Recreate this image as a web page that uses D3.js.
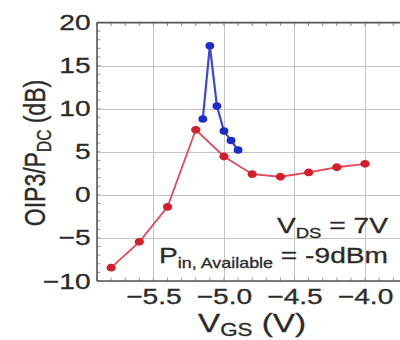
<!DOCTYPE html>
<html><head><meta charset="utf-8">
<script src="https://cdn.jsdelivr.net/npm/d3@7"></script>
<style>body{margin:0;background:#fff}svg{display:block}text{font-family:"Liberation Sans",Arial,sans-serif}</style>
</head><body><svg id="c" width="400" height="340"></svg>
<script>
const redX = [-5.8, -5.6, -5.4, -5.2, -5.0, -4.8, -4.6, -4.4, -4.2, -4.0];
const redY = [-8.45, -5.45, -1.4, 7.55, 4.45, 2.4, 2.1, 2.6, 3.2, 3.6];
const blueX = [-5.15, -5.1, -5.05, -5.0, -4.95, -4.9];
const blueY = [8.8, 17.3, 10.3, 7.4, 6.3, 5.2];
const xTicks = [-5.5, -5.0, -4.5, -4.0];
const yTicks = [-10, -5, 0, 5, 10, 15, 20];

const SX = 1.28; // horizontal glyph stretch seen in the picture
const TXT = "#2b2b2b";
const svg = d3.select("#c");
const L = 97, R = 401, T = 22.5, B = 281;
const x = d3.scaleLinear().domain([-5.9, -3.745]).range([L, R]);
const y = d3.scaleLinear().domain([-10, 20]).range([B, T]);

// grid
svg.append("g").selectAll("line").data(xTicks).join("line")
  .attr("x1", d => Math.round(x(d)) + 0.5).attr("x2", d => Math.round(x(d)) + 0.5).attr("y1", T).attr("y2", B)
  .attr("stroke", "#c4c4c4").attr("stroke-width", 1);
svg.append("g").selectAll("line").data(yTicks).join("line")
  .attr("x1", L).attr("x2", R).attr("y1", d => Math.round(y(d)) + 0.5).attr("y2", d => Math.round(y(d)) + 0.5)
  .attr("stroke", "#c4c4c4").attr("stroke-width", 1);

// minor ticks
const minorX = d3.range(-5.9, -3.7, 0.1);
svg.append("g").selectAll("line").data(minorX).join("line")
  .attr("x1", d => x(d)).attr("x2", d => x(d)).attr("y1", T).attr("y2", T + 3.5)
  .attr("stroke", "#888");
svg.append("g").selectAll("line").data(minorX).join("line")
  .attr("x1", d => x(d)).attr("x2", d => x(d)).attr("y1", B).attr("y2", B - 3.5)
  .attr("stroke", "#999");
const minorY = d3.range(-10, 21, 1);
svg.append("g").selectAll("line").data(minorY).join("line")
  .attr("x1", L).attr("x2", L + 3.5).attr("y1", d => y(d)).attr("y2", d => y(d))
  .attr("stroke", "#999");

// axes via d3
const xa = svg.append("g").attr("transform", `translate(0,${B})`)
  .call(d3.axisBottom(x).tickValues(xTicks).tickSize(0).tickPadding(7)
    .tickFormat(d => d3.format(".1f")(d).replace("-", "\u2212")));
const ya = svg.append("g").attr("transform", `translate(${L},0)`)
  .call(d3.axisLeft(y).tickValues(yTicks).tickSize(0).tickPadding(5)
    .tickFormat(d => String(d).replace("-", "\u2212")));
[xa, ya].forEach(a => {
  a.select(".domain").remove();
  a.selectAll("text").attr("font-size", 22).attr("fill", TXT)
    .attr("font-family", "Liberation Sans, Arial, sans-serif")
    .attr("stroke", TXT).attr("stroke-width", 0.3)
    .attr("transform", `scale(${SX},1)`);
});

// frame
const fr = svg.append("g").attr("stroke", "#555").attr("stroke-width", 1.6);
fr.append("line").attr("x1", L).attr("x2", R).attr("y1", T).attr("y2", T);
fr.append("line").attr("x1", L).attr("x2", R).attr("y1", B).attr("y2", B);
fr.append("line").attr("x1", L).attr("x2", L).attr("y1", T).attr("y2", B);

// series
const line = d3.line().x(d => x(d[0])).y(d => y(d[1]));
const red = redX.map((v, i) => [v, redY[i]]);
const blue = blueX.map((v, i) => [v, blueY[i]]);
svg.append("path").attr("d", line(red)).attr("fill", "none").attr("stroke", "#e24a58").attr("stroke-width", 1.8);
svg.append("g").selectAll("ellipse").data(red).join("ellipse")
  .attr("cx", d => x(d[0])).attr("cy", d => y(d[1])).attr("rx", 4.6).attr("ry", 3.9).attr("fill", "#d41e2c");
svg.append("path").attr("d", line(blue)).attr("fill", "none").attr("stroke", "#3a48d4").attr("stroke-width", 2.2);
svg.append("g").selectAll("ellipse").data(blue).join("ellipse")
  .attr("cx", d => x(d[0])).attr("cy", d => y(d[1])).attr("rx", 4.4).attr("ry", 3.8).attr("fill", "#1c2bcc");

// helper: stretched text
function stext(px, py, size, anchor, parts) {
  const t = svg.append("text").attr("transform", `translate(${px},${py}) scale(${SX},1)`)
    .attr("text-anchor", anchor).attr("font-size", size).attr("fill", TXT)
    .attr("stroke", TXT).attr("stroke-width", 0.3);
  parts.forEach(p => {
    const s = t.append("tspan").text(p.t);
    if (p.sub) s.attr("font-size", p.sub).attr("dy", p.dy);
    else if (p.dy) s.attr("dy", p.dy);
  });
  return t;
}

// annotations
stext(388, 233, 22, "end", [{t: "V"}, {t: "DS", sub: 14.5, dy: 5}, {t: " = 7V", dy: -5}]);
stext(388, 263, 22, "end", [{t: "P"}, {t: "in, Available", sub: 14, dy: 5}, {t: " = -9dBm", dy: -5}]);

// axis titles
stext(252, 332, 26, "middle", [{t: "V"}, {t: "GS", sub: 17.5, dy: 3.5}, {t: " (V)", dy: -3.5}]);
const yt = svg.append("text").attr("transform", `translate(45,153) scale(${SX},1) rotate(-90)`)
  .attr("text-anchor", "middle").attr("font-size", 23).attr("fill", TXT)
  .attr("stroke", TXT).attr("stroke-width", 0.3);
yt.append("tspan").text("OIP3/P");
yt.append("tspan").attr("font-size", 15.5).attr("dy", 4.5).text("DC");
yt.append("tspan").attr("dy", -4.5).text(" (dB)");
</script></body></html>
